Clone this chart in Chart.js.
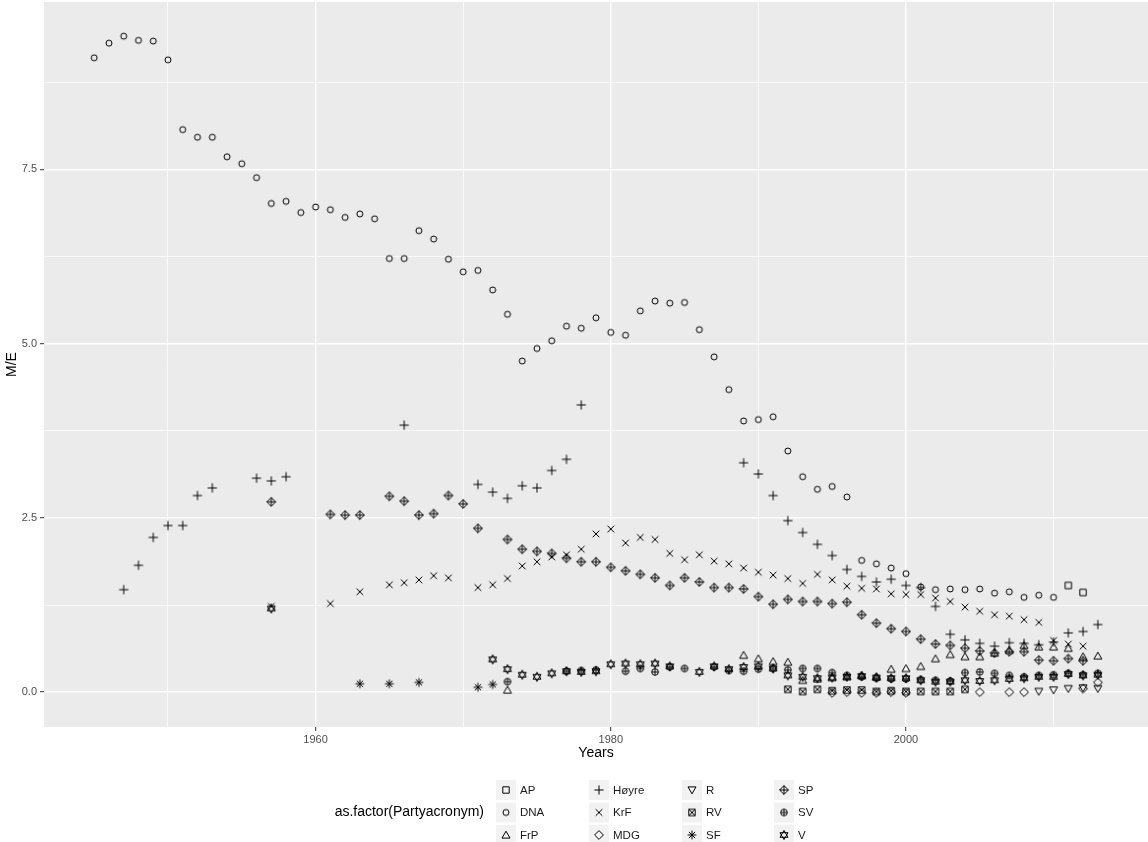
<!DOCTYPE html>
<html>
<head>
<meta charset="utf-8">
<script src="https://cdn.jsdelivr.net/npm/chart.js@4.4.1/dist/chart.umd.min.js"></script>
<style>
html, body { margin: 0; padding: 0; background: #fff; }
canvas { display: block; }
</style>
</head>
<body>
<canvas id="chart-me" width="1148" height="842"></canvas>
<script>
// party data, M/E per election year
var apYears = [2011, 2012]
var apValues = [1.53, 1.43]

var dnaYears = [1945,1946,1947,1948,1949,1950,1951,1952,1953,1954,1955,1956,1957,1958,1959,1960,1961,1962,1963,1964,1965,1966,1967,1968,1969,1970,1971,1972,1973,1974,1975,1976,1977,1978,1979,1980,1981,1982,1983,1984,1985,1986,1987,1988,1989,1990,1991,1992,1993,1994,1995,1996,1997,1998,1999,2000,2001,2002,2003,2004,2005,2006,2007,2008,2009,2010]
var dnaValues = [9.10,9.31,9.41,9.35,9.34,9.07,8.07,7.96,7.96,7.68,7.58,7.38,7.01,7.04,6.88,6.96,6.92,6.81,6.86,6.79,6.22,6.22,6.62,6.50,6.21,6.03,6.05,5.77,5.42,4.75,4.93,5.04,5.25,5.22,5.37,5.16,5.12,5.47,5.61,5.58,5.59,5.20,4.81,4.34,3.89,3.91,3.95,3.46,3.09,2.91,2.95,2.80,1.89,1.84,1.78,1.70,1.51,1.47,1.48,1.47,1.48,1.42,1.44,1.36,1.39,1.36]

var frpYears = [1973,1989,1990,1991,1992,1993,1994,1995,1996,1997,1998,1999,2000,2001,2002,2003,2004,2005,2006,2007,2008,2009,2010,2011,2012,2013]
var frpValues = [0.03,0.53,0.48,0.44,0.43,0.17,0.19,0.21,0.22,0.24,0.22,0.33,0.34,0.37,0.48,0.54,0.51,0.51,0.56,0.60,0.67,0.65,0.65,0.63,0.51,0.52]

var hoyreYears = [1947,1948,1949,1950,1951,1952,1953,1956,1957,1958,1966,1971,1972,1973,1974,1975,1976,1977,1978,1989,1990,1991,1992,1993,1994,1995,1996,1997,1998,1999,2000,2001,2002,2003,2004,2005,2006,2007,2008,2009,2010,2011,2012,2013]
var hoyreValues = [1.47,1.82,2.22,2.39,2.39,2.82,2.93,3.07,3.03,3.09,3.83,2.98,2.87,2.78,2.96,2.93,3.18,3.34,4.12,3.29,3.13,2.82,2.46,2.29,2.12,1.96,1.76,1.66,1.58,1.62,1.53,1.50,1.23,0.83,0.75,0.70,0.66,0.71,0.70,0.68,0.72,0.85,0.87,0.97]

var krfYears = [1957,1961,1963,1965,1966,1967,1968,1969,1971,1972,1973,1974,1975,1976,1977,1978,1979,1980,1981,1982,1983,1984,1985,1986,1987,1988,1989,1990,1991,1992,1993,1994,1995,1996,1997,1998,1999,2000,2001,2002,2003,2004,2005,2006,2007,2008,2009,2010,2011,2012]
var krfValues = [1.23,1.27,1.44,1.54,1.57,1.61,1.67,1.64,1.50,1.54,1.63,1.81,1.87,1.94,1.97,2.05,2.27,2.34,2.14,2.22,2.19,1.99,1.90,1.97,1.88,1.84,1.78,1.72,1.68,1.63,1.56,1.69,1.61,1.52,1.49,1.48,1.41,1.40,1.40,1.35,1.30,1.22,1.16,1.11,1.09,1.04,1.00,0.74,0.69,0.66]

var mdgYears = [1995,1996,1997,1998,1999,2000,2005,2007,2008,2012,2013]
var mdgValues = [-0.01,0.00,-0.01,-0.01,0.00,-0.01,0.00,0.00,0.00,0.05,0.14]

var rYears = [2009,2010,2011,2012,2013]
var rValues = [0.01,0.03,0.05,0.06,0.05]

var rvYears = [1992,1993,1994,1995,1996,1997,1998,1999,2000,2001,2002,2003,2004]
var rvValues = [0.04,0.01,0.04,0.02,0.03,0.03,0.01,0.02,0.01,0.01,0.01,0.01,0.04]

var sfYears = [1963,1965,1967,1971,1972]
var sfValues = [0.12,0.12,0.14,0.07,0.11]

var spYears = [1957,1961,1962,1963,1965,1966,1967,1968,1969,1970,1971,1973,1974,1975,1976,1977,1978,1979,1980,1981,1982,1983,1984,1985,1986,1987,1988,1989,1990,1991,1992,1993,1994,1995,1996,1997,1998,1999,2000,2001,2002,2003,2004,2005,2006,2007,2008,2009,2010,2011,2012]
var spValues = [2.73,2.55,2.54,2.54,2.81,2.74,2.54,2.56,2.82,2.70,2.35,2.19,2.05,2.02,1.99,1.92,1.87,1.87,1.79,1.74,1.69,1.64,1.53,1.64,1.58,1.50,1.50,1.48,1.37,1.26,1.33,1.30,1.30,1.27,1.29,1.11,0.99,0.91,0.87,0.76,0.69,0.67,0.63,0.59,0.56,0.58,0.58,0.46,0.45,0.48,0.45]

var svYears = [1973,1977,1978,1979,1981,1982,1983,1984,1985,1987,1988,1989,1990,1991,1992,1993,1994,1995,1996,1997,1998,1999,2000,2001,2002,2003,2004,2005,2006,2007,2008,2009,2010,2011,2012,2013]
var svValues = [0.15,0.30,0.31,0.32,0.30,0.34,0.29,0.36,0.34,0.36,0.31,0.30,0.33,0.34,0.32,0.34,0.34,0.28,0.24,0.22,0.20,0.19,0.19,0.18,0.17,0.16,0.28,0.29,0.27,0.24,0.22,0.24,0.25,0.27,0.25,0.27]

var vYears = [1957,1972,1973,1974,1975,1976,1977,1978,1979,1980,1981,1982,1983,1984,1986,1987,1988,1989,1990,1991,1992,1993,1994,1995,1996,1997,1998,1999,2000,2001,2002,2003,2004,2005,2006,2007,2008,2009,2010,2011,2012,2013]
var vValues = [1.20,0.47,0.33,0.25,0.22,0.27,0.30,0.29,0.30,0.40,0.41,0.40,0.41,0.37,0.29,0.37,0.33,0.36,0.37,0.34,0.24,0.22,0.20,0.21,0.22,0.23,0.21,0.20,0.20,0.17,0.15,0.15,0.17,0.16,0.17,0.19,0.20,0.22,0.22,0.26,0.24,0.25]

var parties = ["AP", "DNA", "FrP", "Høyre", "KrF", "MDG", "R", "RV", "SF", "SP", "SV", "V"]
var partyYears = [apYears, dnaYears, frpYears, hoyreYears, krfYears, mdgYears, rYears, rvYears, sfYears, spYears, svYears, vYears]
var partyValues = [apValues, dnaValues, frpValues, hoyreValues, krfValues, mdgValues, rValues, rvValues, sfValues, spValues, svValues, vValues]

var xTicks = [1950, 1960, 1970, 1980, 1990, 2000, 2010]
var xLabels = [1960, 1980, 2000]
var yTicks = [0, 1.25, 2.5, 3.75, 5, 6.25, 7.5, 8.75]
var yLabels = [0, 2.5, 5, 7.5]

var FONT = "Arial, 'Liberation Sans', sans-serif";

// ggplot style point shapes 0..11 drawn on small canvases
function tri(g, s, dir) {
	g.moveTo(0, -dir * s);
	g.lineTo(-s * 0.87, dir * s * 0.5);
	g.lineTo(s * 0.87, dir * s * 0.5);
	g.closePath();
}
function plus(g, a) { g.moveTo(-a, 0); g.lineTo(a, 0); g.moveTo(0, -a); g.lineTo(0, a); }
function cross(g, a) { g.moveTo(-a, -a); g.lineTo(a, a); g.moveTo(-a, a); g.lineTo(a, -a); }
function diamond(g, a) { g.moveTo(0, -a); g.lineTo(a, 0); g.lineTo(0, a); g.lineTo(-a, 0); g.closePath(); }

var shapeDraw = [
	function(g) { g.rect(-3.2, -3.2, 6.4, 6.4); },                 // AP square
	function(g) { g.arc(0, 0, 3, 0, Math.PI * 2); },               // DNA circle
	function(g) { g.translate(0, 0.8); tri(g, 4.6, 1); },          // FrP triangle
	function(g) { plus(g, 4.6); },                                 // Høyre plus
	function(g) { cross(g, 3.3); },                                // KrF cross
	function(g) { diamond(g, 4.4); },                              // MDG diamond
	function(g) { g.translate(0, -0.8); tri(g, 4.6, -1); },        // R down triangle
	function(g) { g.rect(-3.2, -3.2, 6.4, 6.4); cross(g, 3.2); },  // RV square x
	function(g) { plus(g, 4.4); cross(g, 3.1); },                  // SF asterisk
	function(g) { diamond(g, 4.4); plus(g, 4.4); },                // SP diamond plus
	function(g) { g.moveTo(3.3, 0); g.arc(0, 0, 3.3, 0, Math.PI * 2); plus(g, 3.3); }, // SV circle plus
	function(g) { tri(g, 4.6, 1); tri(g, 4.6, -1); }               // V star
]

function makeShape(draw) {
	var c = document.createElement("canvas");
	c.width = 16;
	c.height = 16;
	var g = c.getContext("2d");
	g.strokeStyle = "#000";
	g.lineWidth = 1;
	g.translate(8, 8);
	g.beginPath();
	draw(g);
	g.stroke();
	return c;
}
var shapes = shapeDraw.map(makeShape);

var datasets = parties.map(function(p, i) {
	return {
		label: p,
		data: partyYears[i].map(function(yr, j) { return {x: yr, y: partyValues[i][j]}; }),
		pointStyle: shapes[i],
		pointRadius: 3,
		pointHoverRadius: 3,
		showLine: false
	};
});

// grey panel like theme_grey
var panelPlugin = {
	id: "panel",
	beforeDraw: function(chart) {
		var ctx = chart.ctx, a = chart.chartArea;
		ctx.save();
		ctx.fillStyle = "#fff";
		ctx.fillRect(0, 0, chart.width, chart.height);
		ctx.fillStyle = "#EBEBEB";
		ctx.fillRect(a.left, a.top, a.right - a.left, a.bottom - a.top);
		ctx.restore();
	}
};

// bottom legend, 4 columns x 3 rows, title on the left
var legendPlugin = {
	id: "shapeLegend",
	afterDraw: function(chart) {
		var ctx = chart.ctx;
		var colX = [506, 599, 692, 784];
		var rowY = [790, 812.5, 835];
		ctx.save();
		ctx.textBaseline = "middle";
		ctx.fillStyle = "#000";
		ctx.font = "14px " + FONT;
		ctx.textAlign = "right";
		ctx.fillText("as.factor(Partyacronym)", 484, 812.5);
		ctx.font = "11.5px " + FONT;
		ctx.textAlign = "left";
		parties.forEach(function(p, i) {
			var cx = colX[Math.floor(i / 3)], cy = rowY[i % 3];
			ctx.fillStyle = "#F2F2F2";
			ctx.fillRect(cx - 10, cy - 10, 20, 20);
			ctx.drawImage(shapes[i], cx - 8, cy - 8);
			ctx.fillStyle = "#1A1A1A";
			ctx.fillText(p, cx + 14, cy + 0.5);
		});
		ctx.restore();
	}
};

function isIn(list, v) {
	return list.some(function(t) { return Math.abs(t - v) < 1e-6; });
}

function noPad(s) {
	s.paddingTop = 0;
	s.paddingBottom = 0;
	s.paddingLeft = 0;
	s.paddingRight = 0;
}

var ctxMe = document.getElementById("chart-me").getContext("2d");
var chartMe = new Chart(ctxMe, {
	type: "scatter",
	data: { datasets: datasets },
	plugins: [panelPlugin, legendPlugin],
	options: {
		responsive: false,
		animation: false,
		devicePixelRatio: 1,
		layout: { autoPadding: false, padding: { left: 0, right: 0, top: 2, bottom: 80 } },
		plugins: {
			legend: { display: false },
			tooltip: { enabled: false }
		},
		scales: {
			x: {
				type: "linear",
				min: 1941.6,
				max: 2016.4,
				afterBuildTicks: function(s) { s.ticks = xTicks.map(function(v) { return {value: v}; }); },
				afterFit: function(s) { s.height = 35; noPad(s); },
				border: { display: false },
				grid: {
					color: "#fff",
					lineWidth: function(c) { return isIn(xLabels, c.tick.value) ? 1.4 : 0.7; },
					tickColor: function(c) { return isIn(xLabels, c.tick.value) ? "#333" : "rgba(0,0,0,0)"; },
					tickLength: 4,
					tickWidth: 1
				},
				ticks: {
					autoSkip: false,
					maxRotation: 0,
					padding: 2,
					color: "#4D4D4D",
					font: { family: FONT, size: 11 },
					callback: function(v) { return isIn(xLabels, v) ? String(v) : ""; }
				},
				title: {
					display: true,
					text: "Years",
					color: "#000",
					font: { family: FONT, size: 14 },
					padding: { top: 0, bottom: 0 }
				}
			},
			y: {
				type: "linear",
				min: -0.5,
				max: 9.9,
				afterBuildTicks: function(s) { s.ticks = yTicks.map(function(v) { return {value: v}; }); },
				afterFit: function(s) { s.width = 44; noPad(s); },
				border: { display: false },
				grid: {
					color: "#fff",
					lineWidth: function(c) { return isIn(yLabels, c.tick.value) ? 1.4 : 0.7; },
					tickColor: function(c) { return isIn(yLabels, c.tick.value) ? "#333" : "rgba(0,0,0,0)"; },
					tickLength: 4,
					tickWidth: 1
				},
				ticks: {
					autoSkip: false,
					padding: 3,
					color: "#4D4D4D",
					font: { family: FONT, size: 11 },
					callback: function(v) { return isIn(yLabels, v) ? v.toFixed(1) : ""; }
				},
				title: {
					display: true,
					text: "M/E",
					color: "#000",
					font: { family: FONT, size: 14 },
					padding: { top: 4, bottom: 0 }
				}
			}
		}
	}
});
</script>
</body>
</html>
